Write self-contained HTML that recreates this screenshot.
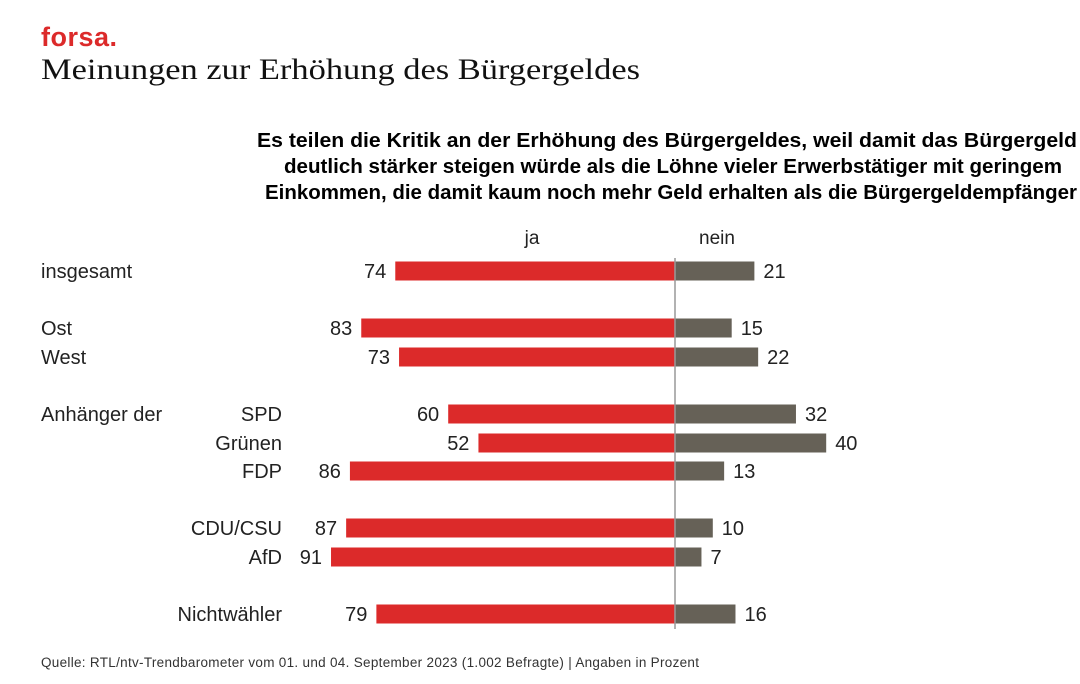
<!DOCTYPE html>
<html><head><meta charset="utf-8"><style>
body{margin:0;width:1080px;height:679px;background:#fff;overflow:hidden;font-family:"Liberation Sans",sans-serif;}
svg text{font-family:"Liberation Sans",sans-serif;}
</style></head><body>
<svg width="1080" height="679">
<text x="41" y="46" fill="#dc2a2a" font-size="27" font-weight="bold" textLength="76">forsa.</text>
<text x="41" y="79" fill="#111" font-size="30" textLength="599" lengthAdjust="spacingAndGlyphs" style="font-family:'Liberation Serif',serif">Meinungen zur Erhöhung des Bürgergeldes</text>
<g font-weight="bold" font-size="20" fill="#000">
<text x="257" y="147" textLength="820" lengthAdjust="spacingAndGlyphs">Es teilen die Kritik an der Erhöhung des Bürgergeldes, weil damit das Bürgergeld</text>
<text x="284" y="173" textLength="778" lengthAdjust="spacingAndGlyphs">deutlich stärker steigen würde als die Löhne vieler Erwerbstätiger mit geringem</text>
<text x="265" y="199" textLength="812" lengthAdjust="spacingAndGlyphs">Einkommen, die damit kaum noch mehr Geld erhalten als die Bürgergeldempfänger</text>
</g>
<text x="532" y="244" font-size="19" text-anchor="middle" fill="#222">ja</text>
<text x="717" y="244" font-size="19" text-anchor="middle" fill="#222">nein</text>
<text x="41" y="278" font-size="20" fill="#222">insgesamt</text>
<text x="41" y="335" font-size="20" fill="#222">Ost</text>
<text x="41" y="364" font-size="20" fill="#222">West</text>
<text x="41" y="421" font-size="20" fill="#222">Anhänger der</text>
<g id="bars"></g>
<line x1="675" y1="258" x2="675" y2="629" stroke="#999" stroke-width="1.5"/>
<text x="41" y="667" font-size="13.5" fill="#333" textLength="658">Quelle: RTL/ntv-Trendbarometer vom 01. und 04. September 2023 (1.002 Befragte) | Angaben in Prozent</text>
</svg>
<script>
const categories=["","","","SPD","Grünen","FDP","CDU/CSU","AfD","Nichtwähler"];
const jaValues=[74,83,73,60,52,86,87,91,79];
const neinValues=[21,15,22,32,40,13,10,7,16];
const rowY=[271,328,357,414,443,471,528,557,614];
const cx=675, k=3.78, h=19;
const g=document.getElementById('bars');
const NS='http://www.w3.org/2000/svg';
function mk(t,a){const e=document.createElementNS(NS,t);for(const n in a)e.setAttribute(n,a[n]);g.appendChild(e);return e;}
for(let i=0;i<jaValues.length;i++){
 const y=rowY[i], wj=jaValues[i]*k, wn=neinValues[i]*k;
 const r=mk('rect',{x:cx-wj,y:y-h/2,width:wj,height:h,fill:'#dc2a2a'});
 
 
 const n=mk('rect',{x:cx,y:y-h/2,width:wn,height:h,fill:'#666157'});
 
 
 const t1=mk('text',{x:cx-wj-9,y:y+7,'font-size':20,'text-anchor':'end',fill:'#222'});t1.textContent=jaValues[i];
 
 
 const t2=mk('text',{x:cx+wn+9,y:y+7,'font-size':20,fill:'#222'});t2.textContent=neinValues[i];
 
 
 if(categories[i]){const l=mk('text',{x:282,y:y+7,'font-size':20,'text-anchor':'end',fill:'#222'});l.textContent=categories[i];
 
 }
}
</script>
</body></html>
